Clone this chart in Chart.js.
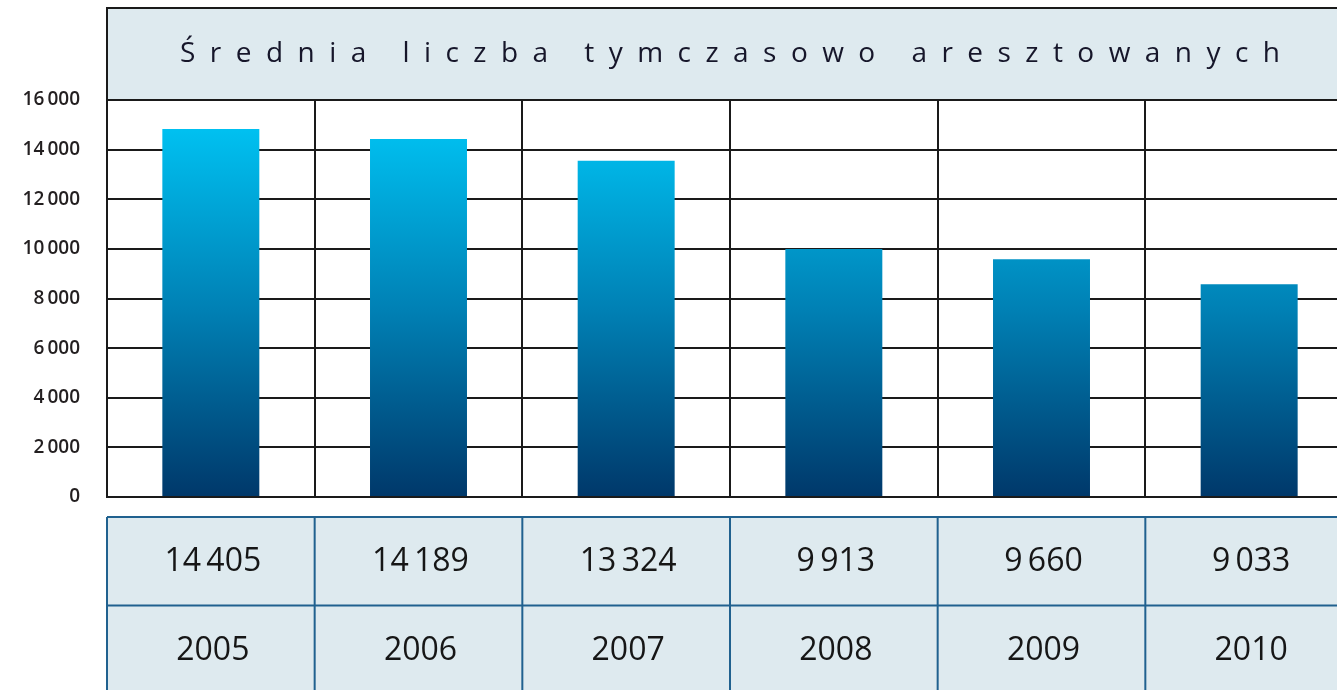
<!DOCTYPE html>
<html lang="pl">
<head>
<meta charset="utf-8">
<title>Średnia liczba tymczasowo aresztowanych</title>
<script src="https://cdn.jsdelivr.net/npm/chart.js@4.4.1/dist/chart.umd.min.js"></script>
<style>
  html, body { margin: 0; padding: 0; background: #fff; overflow: hidden; }
  #wrap { position: absolute; left: 0; top: 0; width: 1360px; height: 690px; }
</style>
</head>
<body>
<div id="wrap"><canvas id="chart" width="1360" height="690"></canvas></div>
<script>
const title = 'Średnia liczba tymczasowo aresztowanych';
const years = ['2005', '2006', '2007', '2008', '2009', '2010'];
// bar heights as drawn in the picture
const barValues = [14830, 14430, 13550, 10000, 9580, 8570];
// numbers printed in the table under the bars
const tableValues = [14405, 14189, 13324, 9913, 9660, 9033];
const yTicks = [0, 2000, 4000, 6000, 8000, 10000, 12000, 14000, 16000];

const fmt = (v, sep = ' ') => String(v).replace(/\B(?=(\d{3})+(?!\d))/g, sep);
const FONT = "'Open Sans', 'Noto Sans', sans-serif";

const frame = {
  id: 'frame',
  beforeDraw(chart) {
    const { ctx, chartArea: area, scales: { x } } = chart;
    const half = (x.getPixelForValue(1) - x.getPixelForValue(0)) / 2;
    const left = area.left, right = x.getPixelForValue(years.length - 1) + half;

    // title box
    ctx.save();
    ctx.fillStyle = '#deeaef';
    ctx.fillRect(left, 8, right - left, area.top - 8);
    ctx.strokeStyle = '#1a1a1a';
    ctx.lineWidth = 2;
    ctx.beginPath();
    ctx.moveTo(left, area.top);
    ctx.lineTo(left, 8);
    ctx.lineTo(right, 8);
    ctx.stroke();

    ctx.font = `500 28px ${FONT}`;
    ctx.fillStyle = '#16162a';
    ctx.textBaseline = 'middle';
    const plain = ctx.measureText(title).width;
    const spacing = (1100 - plain) / (title.length - 1);
    ctx.letterSpacing = spacing + 'px';
    ctx.textAlign = 'left';
    ctx.fillText(title, 180, 54);
    ctx.restore();
  },
  afterDraw(chart) {
    const { ctx, chartArea: area, scales: { x } } = chart;
    const half = (x.getPixelForValue(1) - x.getPixelForValue(0)) / 2;
    const left = area.left, right = x.getPixelForValue(years.length - 1) + half;
    const top = 517, rowH = 88.5;

    ctx.save();
    // line under title (top of the plot)
    ctx.strokeStyle = '#1a1a1a';
    ctx.lineWidth = 2;
    ctx.beginPath();
    ctx.moveTo(left, area.top);
    ctx.lineTo(right, area.top);
    ctx.stroke();

    // table
    ctx.fillStyle = '#deeaef';
    ctx.fillRect(left, top, right - left, rowH * 2);
    ctx.strokeStyle = '#20618f';
    ctx.lineWidth = 2;
    ctx.beginPath();
    ctx.moveTo(left, top); ctx.lineTo(right, top);
    ctx.moveTo(left, top + rowH); ctx.lineTo(right, top + rowH);
    for (let i = 0; i <= years.length; i++) {
      const px = i < years.length ? x.getPixelForValue(i) - half : right;
      ctx.moveTo(px, top); ctx.lineTo(px, top + rowH * 2);
    }
    ctx.stroke();

    ctx.font = `32px ${FONT}`;
    ctx.fillStyle = '#161616';
    ctx.textAlign = 'center';
    ctx.textBaseline = 'middle';
    years.forEach((yr, i) => {
      const cx = x.getPixelForValue(i) + 2;
      ctx.fillText(fmt(tableValues[i], '\u2009'), cx, top + rowH / 2 + 1);
      ctx.fillText(yr, cx, top + rowH * 1.5 + 1);
    });
    ctx.restore();
  }
};

const ctx = document.getElementById('chart').getContext('2d');

new Chart(ctx, {
  type: 'bar',
  data: {
    labels: years,
    datasets: [{
      data: barValues,
      backgroundColor: (c) => {
        const { chart } = c;
        const { chartArea, scales } = chart;
        if (!chartArea) return '#0088bb';
        const g = chart.ctx.createLinearGradient(0, scales.y.getPixelForValue(0), 0, scales.y.getPixelForValue(15000));
        g.addColorStop(0, '#00386a');
        g.addColorStop(0.5, '#0080b4');
        g.addColorStop(1, '#00c2f2');
        return g;
      },
      borderWidth: 0,
      barPercentage: 1,
      categoryPercentage: 0.467
    }]
  },
  options: {
    responsive: false,
    animation: false,
    layout: { padding: { top: 100, bottom: 193, left: 0, right: 7 } },
    plugins: {
      legend: { display: false },
      tooltip: { enabled: false }
    },
    scales: {
      x: {
        ticks: { display: false },
        grid: { color: '#1a1a1a', lineWidth: 2, offset: true, drawTicks: false },
        border: { color: '#1a1a1a', width: 2 }
      },
      y: {
        min: 0,
        max: 16000,
        afterFit: (s) => { s.width = 107; },
        afterBuildTicks: (s) => { s.ticks = yTicks.map((v) => ({ value: v })); },
        ticks: {
          padding: 27,
          color: '#231f20',
          font: { family: FONT, size: 19, weight: '600' },
          callback: (v) => fmt(v, '\u2009')
        },
        grid: { color: '#1a1a1a', lineWidth: 2, drawTicks: false },
        border: { color: '#1a1a1a', width: 2 }
      }
    }
  },
  plugins: [frame]
});
</script>
</body>
</html>
